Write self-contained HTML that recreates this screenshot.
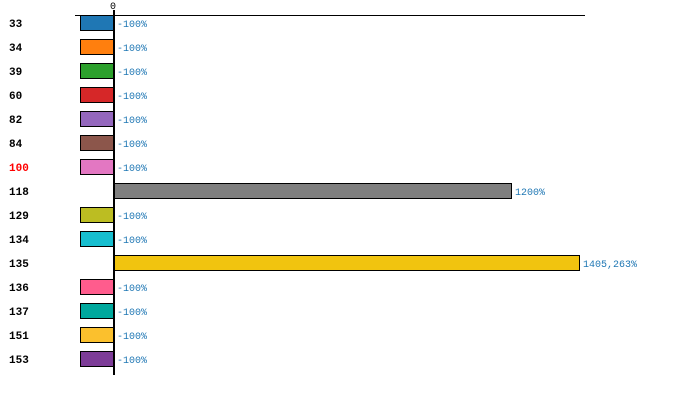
<!DOCTYPE html>
<html><head><style>body{margin:0;background:#fff}</style></head><body>
<svg width="700" height="405" xmlns="http://www.w3.org/2000/svg" font-family="Liberation Mono, monospace">
<line x1="75" y1="15.5" x2="585" y2="15.5" stroke="#000" stroke-width="1"/>
<text x="113" y="9" font-size="10" text-anchor="middle">0</text>
<g font-size="11" font-weight="bold">
<text x="9" y="27">33</text><text x="9" y="51">34</text><text x="9" y="75">39</text><text x="9" y="99">60</text><text x="9" y="123">82</text><text x="9" y="147">84</text><text x="9" y="171" fill="#f00">100</text><text x="9" y="195">118</text><text x="9" y="219">129</text><text x="9" y="243">134</text><text x="9" y="267">135</text><text x="9" y="291">136</text><text x="9" y="315">137</text><text x="9" y="339">151</text><text x="9" y="363">153</text>
</g>
<g stroke="#000" stroke-width="1">
<rect x="80.5" y="15.5" width="33" height="15" fill="#1f77b4"/>
<rect x="80.5" y="39.5" width="33" height="15" fill="#ff7f0e"/>
<rect x="80.5" y="63.5" width="33" height="15" fill="#2ca02c"/>
<rect x="80.5" y="87.5" width="33" height="15" fill="#d62728"/>
<rect x="80.5" y="111.5" width="33" height="15" fill="#9467bd"/>
<rect x="80.5" y="135.5" width="33" height="15" fill="#8c564b"/>
<rect x="80.5" y="159.5" width="33" height="15" fill="#e377c2"/>
<rect x="114.5" y="183.5" width="397" height="15" fill="#7f7f7f"/>
<rect x="80.5" y="207.5" width="33" height="15" fill="#bcbd22"/>
<rect x="80.5" y="231.5" width="33" height="15" fill="#17becf"/>
<rect x="114.5" y="255.5" width="465" height="15" fill="#f1c40f"/>
<rect x="80.5" y="279.5" width="33" height="15" fill="#ff5c8d"/>
<rect x="80.5" y="303.5" width="33" height="15" fill="#00a89d"/>
<rect x="80.5" y="327.5" width="33" height="15" fill="#fbc02d"/>
<rect x="80.5" y="351.5" width="33" height="15" fill="#7d3c98"/>
</g>
<line x1="114" y1="10" x2="114" y2="375" stroke="#000" stroke-width="2"/>
<g font-size="10" fill="#1f77b4">
<text x="117" y="27">-100%</text><text x="117" y="51">-100%</text><text x="117" y="75">-100%</text><text x="117" y="99">-100%</text><text x="117" y="123">-100%</text><text x="117" y="147">-100%</text><text x="117" y="171">-100%</text>
<text x="515" y="195">1200%</text>
<text x="117" y="219">-100%</text><text x="117" y="243">-100%</text>
<text x="583" y="267">1405,263%</text>
<text x="117" y="291">-100%</text><text x="117" y="315">-100%</text><text x="117" y="339">-100%</text><text x="117" y="363">-100%</text>
</g>
</svg>
</body></html>
